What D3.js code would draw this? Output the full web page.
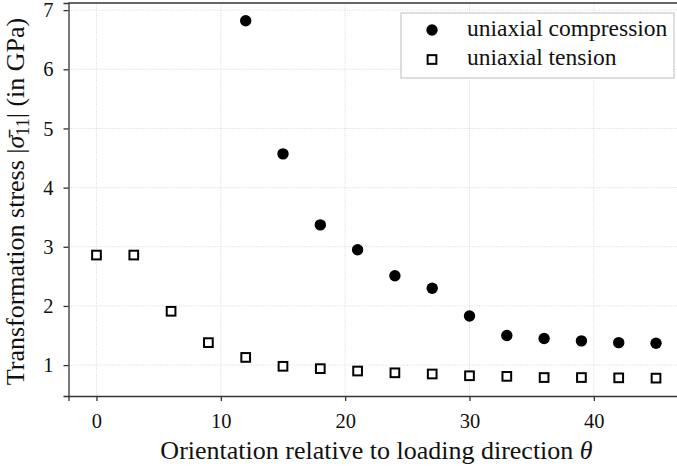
<!DOCTYPE html>
<html>
<head>
<meta charset="utf-8">
<script src="https://cdn.jsdelivr.net/npm/d3@7"></script>
<style>
  html, body { margin: 0; padding: 0; background: #fff; }
  svg { display: block; }
  text { font-family: "Liberation Serif", "DejaVu Serif", serif; fill: #111; }
</style>
</head>
<body>
<svg id="chart" width="677" height="466"></svg>
<script>
// Orientation angles (degrees) and transformation stress magnitudes (GPa)
const compressionAngles = [12, 15, 18, 21, 24, 27, 30, 33, 36, 39, 42, 45];
const compressionStress = [6.82, 4.57, 3.37, 2.95, 2.51, 2.30, 1.83, 1.50, 1.45, 1.41, 1.38, 1.37];
const tensionAngles = [0, 3, 6, 9, 12, 15, 18, 21, 24, 27, 30, 33, 36, 39, 42, 45];
const tensionStress = [2.86, 2.86, 1.91, 1.38, 1.13, 0.98, 0.94, 0.90, 0.87, 0.85, 0.82, 0.81, 0.79, 0.79, 0.785, 0.78];
const xTicks = [0, 10, 20, 30, 40];
const yTicks = [1, 2, 3, 4, 5, 6, 7];
const legendLabels = ["uniaxial compression", "uniaxial tension"];

const serif = "'Liberation Serif', 'DejaVu Serif', serif";
const svg = d3.select("#chart");
const plotLeft = 68.5, plotTop = 3, plotRight = 684, plotBottom = 396;

const x = d3.scaleLinear().domain([-2.25, 47.25]).range([plotLeft, plotRight]);
const y = d3.scaleLinear().domain([0.478, 7.12]).range([plotBottom, plotTop]);

// Dotted grid at major ticks
const grid = svg.append("g").attr("stroke", "#cfcfcf").attr("stroke-width", 0.8)
  .attr("stroke-dasharray", "1,1.4");
grid.selectAll(".gx").data(xTicks).join("line").attr("class", "gx")
  .attr("x1", d => x(d)).attr("x2", d => x(d)).attr("y1", plotTop).attr("y2", plotBottom);
grid.selectAll(".gy").data(yTicks).join("line").attr("class", "gy")
  .attr("y1", d => y(d)).attr("y2", d => y(d)).attr("x1", plotLeft).attr("x2", plotRight);

// Axes
const fmt = d3.format("d");
const xAxis = svg.append("g").attr("transform", `translate(0,${plotBottom})`)
  .call(d3.axisBottom(x).tickValues(xTicks).tickFormat(fmt).tickSizeOuter(0).tickSize(5).tickPadding(12));
const yAxis = svg.append("g").attr("transform", `translate(${plotLeft},0)`)
  .call(d3.axisLeft(y).tickValues(yTicks).tickFormat(fmt).tickSizeOuter(0).tickSize(5).tickPadding(10));
[xAxis, yAxis].forEach(a => {
  a.attr("font-family", serif);
  a.select(".domain").attr("stroke", "#333").attr("stroke-width", 1.3);
  a.selectAll(".tick line").attr("stroke", "#333").attr("stroke-width", 1.3);
  a.selectAll(".tick text").attr("font-family", serif)
    .attr("font-size", 20.5).attr("fill", "#111");
});
// Top spine
svg.append("line").attr("x1", plotLeft).attr("x2", plotRight).attr("y1", plotTop).attr("y2", plotTop)
  .attr("stroke", "#333").attr("stroke-width", 1.3);

// Compression: filled circles
const rad = 5.7;
svg.append("g").selectAll("circle")
  .data(compressionAngles.map((a, i) => [a, compressionStress[i]]))
  .join("circle")
  .attr("cx", d => x(d[0])).attr("cy", d => y(d[1])).attr("r", rad).attr("fill", "#000");

// Tension: open squares
const sq = 8.7;
svg.append("g").selectAll("rect")
  .data(tensionAngles.map((a, i) => [a, tensionStress[i]]))
  .join("rect")
  .attr("x", d => x(d[0]) - sq / 2).attr("y", d => y(d[1]) - sq / 2)
  .attr("width", sq).attr("height", sq)
  .attr("fill", "#fff").attr("stroke", "#000").attr("stroke-width", 2);

// Legend
const lg = svg.append("g");
lg.append("rect").attr("x", 401).attr("y", 13).attr("width", 273).attr("height", 65)
  .attr("fill", "#fff").attr("stroke", "#cccccc").attr("stroke-width", 1.3);
lg.append("circle").attr("cx", 432).attr("cy", 30).attr("r", rad).attr("fill", "#000");
lg.append("rect").attr("x", 432 - sq / 2).attr("y", 59.5 - sq / 2).attr("width", sq).attr("height", sq)
  .attr("fill", "#fff").attr("stroke", "#000").attr("stroke-width", 2);
lg.selectAll("text").data(legendLabels).join("text")
  .attr("x", 467).attr("y", (d, i) => 36 + i * 29)
  .attr("font-family", serif).attr("font-size", 23.5).text(d => d);

// Axis titles
svg.append("text").attr("x", 376.5).attr("y", 459)
  .attr("text-anchor", "middle").attr("font-family", serif).attr("font-size", 26)
  .text("Orientation relative to loading direction ")
  .append("tspan").attr("font-style", "italic").text("θ");

const yl = svg.append("text")
  .attr("transform", `translate(24,${(plotTop + plotBottom) / 2 + 2}) rotate(-90)`)
  .attr("text-anchor", "middle").attr("font-family", serif).attr("font-size", 26);
yl.append("tspan").text("Transformation stress |");
yl.append("tspan").attr("font-style", "italic").text("σ̄");
yl.append("tspan").attr("font-size", 18).attr("dy", 5).text("11");
yl.append("tspan").attr("dy", -5).text("| (in GPa)");
</script>
</body>
</html>
